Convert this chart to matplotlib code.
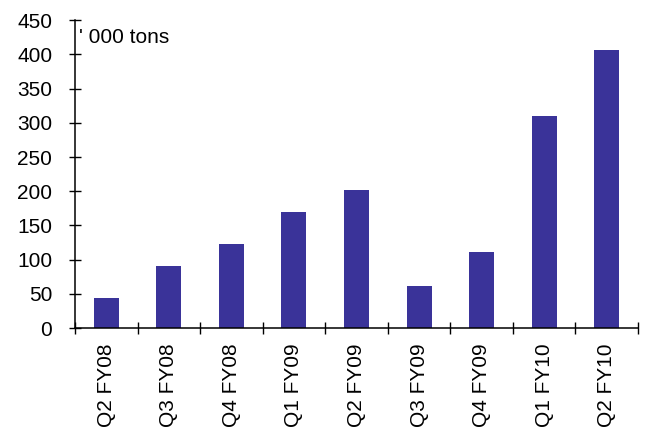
import numpy as np
import matplotlib.pyplot as plt

plt.rcParams['font.family'] = ['Liberation Sans', 'DejaVu Sans']

quarters = ['Q2 FY08', 'Q3 FY08', 'Q4 FY08', 'Q1 FY09', 'Q2 FY09',
            'Q3 FY09', 'Q4 FY09', 'Q1 FY10', 'Q2 FY10']
volume = [44, 91, 123, 170, 202, 61, 111, 310, 406]
yticks = list(range(0, 451, 50))

fig = plt.figure(figsize=(6.47, 4.30), dpi=100)
ax = fig.add_axes([0.116, 0.237, 0.870, 0.716])

x = np.arange(len(quarters))
ax.bar(x, volume, width=0.4, color='#3a3399')

ax.set_xlim(-0.5, len(quarters) - 0.5)
ax.set_ylim(0, 450)
ax.set_yticks(yticks)
ax.tick_params(axis='y', direction='inout', length=9, width=1, pad=12, labelsize=15)

ax.set_xticks(x)
ax.set_xticklabels(quarters, rotation=90, fontsize=15)
ax.set_xticks(np.arange(len(quarters) + 1) - 0.5, minor=True)
ax.tick_params(axis='x', which='major', length=0, pad=11)
ax.tick_params(axis='x', which='minor', direction='inout', length=9, width=1)

for s in ['top', 'right']:
    ax.spines[s].set_visible(False)
for s in ['left', 'bottom']:
    ax.spines[s].set_linewidth(1.1)

ax.text(-0.43, 425, "' 000 tons", fontsize=15, va='center', ha='left')

fig.savefig('out.png', dpi=100)
